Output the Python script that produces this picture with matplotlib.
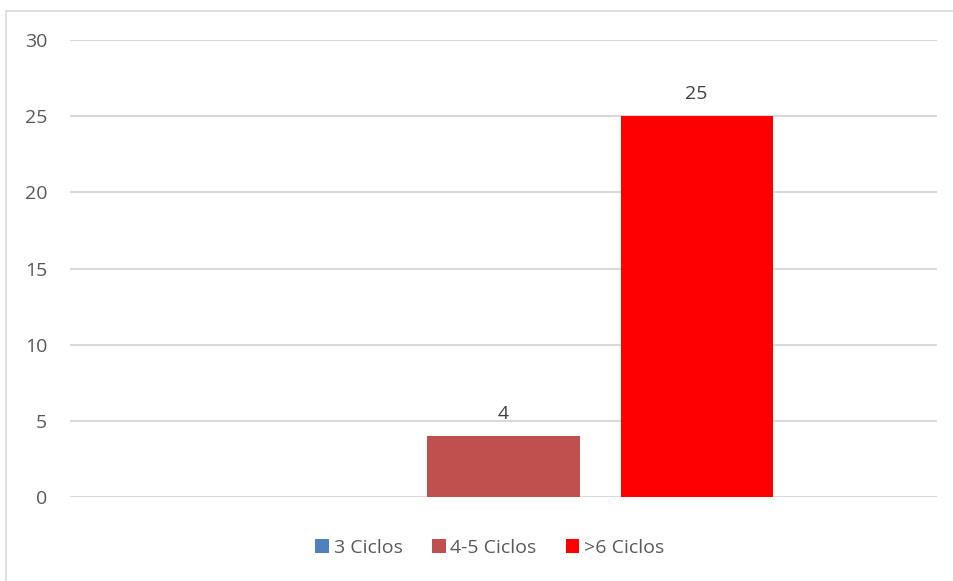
import matplotlib.pyplot as plt
from matplotlib.patches import Rectangle

# series data
series = ['3 Ciclos', '4-5 Ciclos', '>6 Ciclos']
values = [0, 4, 25]
colors = ['#4f81bd', '#c0504d', '#ff0000']
yticks = [0, 5, 10, 15, 20, 25, 30]

plt.rcParams['font.family'] = ['Open Sans', 'DejaVu Sans']
text_color = '#595959'
grid_color = '#d9d9d9'
fs = 14

fig = plt.figure(figsize=(9.54, 5.81), dpi=100)
ax = fig.add_axes([70/954, 1-497/581, 867/954, 457/581])

# chart frame, right and bottom edges run off the canvas
fig.patches.append(Rectangle((6/954, -0.01), 1.1, 1-11/581+0.01, transform=fig.transFigure,
                             fill=False, edgecolor=grid_color, linewidth=1.2))

width = 152/867
step = 193/867
bars = []
for i, (name, v, c) in enumerate(zip(series, values, colors)):
    xpos = (i - 1) * step
    b = ax.bar(xpos, v, width=width, color=c, label=name, zorder=3)
    bars.append(b)
    if v > 0:
        ax.annotate(str(v), (xpos, v), xytext=(0, 9.5), textcoords='offset points',
                    ha='center', va='bottom', fontsize=fs, color='#404040')

ax.set_xlim(-0.5, 0.5)
ax.set_ylim(0, 30)
ax.set_yticks(yticks)
ax.set_xticks([])
ax.grid(axis='y', color=grid_color, linewidth=1.5, zorder=0)
for s in ax.spines.values():
    s.set_visible(False)
ax.tick_params(axis='y', length=0, pad=16.5, labelsize=fs, labelcolor=text_color)

leg = fig.legend(handles=[b[0] for b in bars], labels=series, loc='center',
                 bbox_to_anchor=(490/954, 1-548/581), ncol=3, frameon=False,
                 fontsize=fs, handlelength=0.7, handleheight=0.7,
                 handletextpad=0.25, columnspacing=1.5, labelcolor=text_color)

fig.savefig('out.png', dpi=100)
